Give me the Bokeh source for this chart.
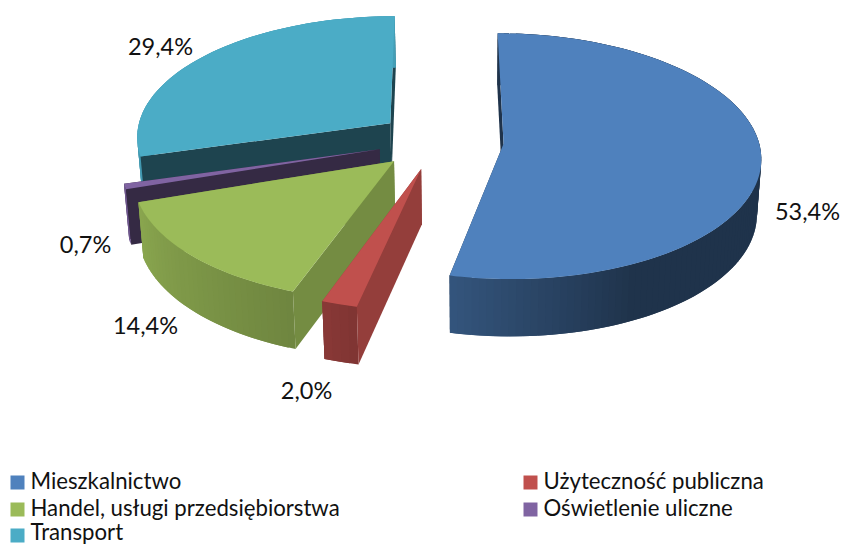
import numpy as np
from bokeh.plotting import figure
from bokeh.models import Range1d, ColumnDataSource
from bokeh.core.properties import value
from bokeh.embed import file_html
from bokeh.resources import INLINE

categories = ["Mieszkalnictwo", "Użyteczność publiczna", "Handel, usługi przedsiębiorstwa",
              "Oświetlenie uliczne", "Transport"]
shares = [53.4, 2.0, 14.4, 0.7, 29.4]
colors = ["#4f81bd", "#c0504d", "#9bbb59", "#8064a2", "#4bacc6"]
cut_shade = [0.40, 0.775, 0.75, 0.42, 0.40]
explode = [0.256, 0.24, 0.24, 0.24, 0.24]

label_pos = [(807, 210.5), (306, 389.5), (145, 324.5), (85, 243.5), (160, 45.5)]
legend_pos = [(10, 482), (523, 482), (10, 509), (523, 509), (10, 535)]
legend_text_y = [480, 480, 507, 507, 530.5]

CX, CY, R, RY, K = 438, 140, 255, 121, 0.10
DEPTH, XB, BSCALE = 54.5, 470, 0.985


def hexmul(c, f):
    r, g, b = [int(c[i:i + 2], 16) for i in (1, 3, 5)]
    return "#%02x%02x%02x" % (int(r * f), int(g * f), int(b * f))


def rim_shade(theta):
    return float(np.interp(theta, [0, 154, 192, 200, 251, 360],
                           [0.40, 0.40, 0.66, 0.72, 0.89, 0.92]))


def top_pt(px, py):
    s = 1 / (1 + K * py)
    return CX + R * px * s, CY - RY * py * s


def bot_pt(px, py):
    x, y = top_pt(px, py)
    return XB + (x - XB) * BSCALE, y + DEPTH * (1 - 0.05 * py)


total = sum(shares)
edges = np.concatenate([[0], np.cumsum(shares)]) / total * 360

xs, ys, fills = [], [], []


def add(x, y, c):
    xs.append(list(x))
    ys.append(list(y))
    fills.append(c)


for i in [4, 3, 2, 1, 0]:
    t0, t1 = edges[i], edges[i + 1]
    mid = np.radians((t0 + t1) / 2)
    ax, ay = explode[i] * np.sin(mid), explode[i] * np.cos(mid)
    n = max(3, int((t1 - t0) / 1.5))
    th = np.linspace(t0, t1, n + 1)
    wx = ax + np.sin(np.radians(th))
    wy = ay + np.cos(np.radians(th))
    tops = [top_pt(a, b) for a, b in zip(wx, wy)]
    bots = [bot_pt(a, b) for a, b in zip(wx, wy)]
    apex_t, apex_b = top_pt(ax, ay), bot_pt(ax, ay)
    cut = hexmul(colors[i], cut_shade[i])
    # closing cut face, then outer wall, then opening cut face, then top
    add([apex_t[0], tops[-1][0], bots[-1][0], apex_b[0]],
        [apex_t[1], tops[-1][1], bots[-1][1], apex_b[1]], cut)
    for j in range(n):
        k = min(j + 2, n)
        c = hexmul(colors[i], rim_shade((th[j] + th[j + 1]) / 2))
        add([tops[j][0], tops[k][0], bots[k][0], bots[j][0]],
            [tops[j][1], tops[k][1], bots[k][1], bots[j][1]], c)
    add([apex_t[0], tops[0][0], bots[0][0], apex_b[0]],
        [apex_t[1], tops[0][1], bots[0][1], apex_b[1]], cut)
    add([apex_t[0]] + [q[0] for q in tops], [apex_t[1]] + [q[1] for q in tops], colors[i])

p = figure(width=842, height=544, x_range=Range1d(0, 842), y_range=Range1d(544, 0),
           output_backend="svg", toolbar_location=None, min_border=0,
           x_axis_location=None, y_axis_location=None, outline_line_color=None)
p.grid.visible = False
p.background_fill_color = "white"

src = ColumnDataSource(dict(xs=xs, ys=ys, c=fills))
p.patches("xs", "ys", source=src, fill_color="c", line_color=None)

lab = [f"{v:.1f}".replace(".", ",") + "%" for v in shares]
p.text([q[0] for q in label_pos], [q[1] for q in label_pos], text=lab,
       text_font=value("Lato"), text_font_size="23.5px", text_color="#111111",
       text_align="center", text_baseline="middle")

p.rect([q[0] + 7 for q in legend_pos], [q[1] for q in legend_pos], width=14, height=14,
       fill_color=colors, line_color=None)
p.text([q[0] + 20 for q in legend_pos], legend_text_y, text=categories,
       text_font=value("Lato"), text_font_size="22.2px", text_color="#111111",
       text_align="left", text_baseline="middle")

open("out.html", "w").write(file_html(p, INLINE))
